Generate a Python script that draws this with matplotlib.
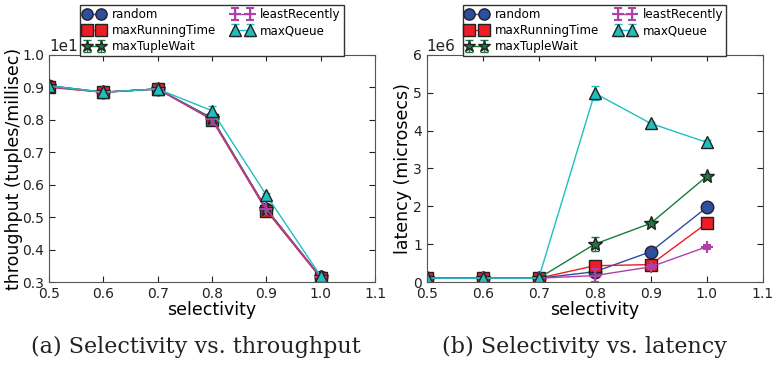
import matplotlib
matplotlib.use("Agg")
import matplotlib.pyplot as plt
from matplotlib.ticker import ScalarFormatter, MultipleLocator

# selectivity values (x axis)
selectivity = [0.5, 0.6, 0.7, 0.8, 0.9, 1.0]

# throughput in tuples/millisec
tp_random = [9.05, 8.85, 8.95, 8.05, 5.25, 3.15]
tp_maxRunningTime = [9.00, 8.85, 8.95, 8.00, 5.20, 3.12]
tp_maxTupleWait = [9.05, 8.85, 8.95, 8.05, 5.25, 3.15]
tp_leastRecently = [9.02, 8.85, 8.95, 8.02, 5.25, 3.15]
tp_maxQueue = [9.05, 8.85, 8.95, 8.28, 5.68, 3.18]
tp_err = [0.05, 0.05, 0.05, 0.15, 0.05, 0.03]

# latency in microsecs
lat_random = [0.1e6, 0.1e6, 0.1e6, 0.27e6, 0.80e6, 1.97e6]
lat_maxRunningTime = [0.1e6, 0.1e6, 0.1e6, 0.43e6, 0.46e6, 1.55e6]
lat_maxTupleWait = [0.1e6, 0.1e6, 0.1e6, 1.00e6, 1.55e6, 2.79e6]
lat_leastRecently = [0.1e6, 0.1e6, 0.1e6, 0.17e6, 0.40e6, 0.93e6]
lat_maxQueue = [0.1e6, 0.1e6, 0.1e6, 4.99e6, 4.19e6, 3.69e6]
lat_err = [0.01e6, 0.01e6, 0.01e6, 0.18e6, 0.05e6, 0.05e6]

labels = ['random', 'maxRunningTime', 'maxTupleWait', 'leastRecently', 'maxQueue']
colors = ['#2f4ea0', '#ee1c25', '#1a7a40', '#b040a8', '#1fbfbf']
markers = ['o', 's', '*', '+', '^']
sizes = [9, 9, 10, 9, 9]

fig = plt.figure(figsize=(7.75, 3.66), dpi=100)
ax1 = fig.add_axes([0.063, 0.2295, 0.421, 0.6205])
ax2 = fig.add_axes([0.5506, 0.2295, 0.4335, 0.6205])


def draw(ax, series, err):
    for i, (ys, lab) in enumerate(zip(series, labels)):
        if lab in ('leastRecently', 'maxTupleWait', 'maxQueue'):
            ax.errorbar(selectivity, ys, yerr=err, color=colors[i], marker=markers[i],
                        markersize=sizes[i], markerfacecolor=colors[i],
                        markeredgecolor='#222222' if markers[i] != '+' else colors[i],
                        markeredgewidth=1.0 if markers[i] != '+' else 1.5,
                        linewidth=1.0, capsize=3, elinewidth=1.0, label=lab)
        else:
            ax.plot(selectivity, ys, color=colors[i], marker=markers[i],
                    markersize=sizes[i], markerfacecolor=colors[i],
                    markeredgecolor='#222222', linewidth=1.0, label=lab)
    ax.set_xlim(0.5, 1.1)
    ax.xaxis.set_major_locator(MultipleLocator(0.1))
    ax.xaxis.set_major_formatter(matplotlib.ticker.FormatStrFormatter('%.1f'))
    ax.tick_params(direction='in', top=True, right=True, labelsize=10,
                   length=4, colors='#222222')
    ax.set_xlabel('selectivity', fontsize=12.5, labelpad=0)
    for s in ax.spines.values():
        s.set_color('#555555')
    handles, labs = ax.get_legend_handles_labels()
    ax.legend(handles, labs, loc='lower center', bbox_to_anchor=(0.5, 0.995), ncol=2,
              numpoints=2, fontsize=8.6, markerscale=0.9, handlelength=1.8,
              handletextpad=0.6, columnspacing=1.3, labelspacing=0.25, borderpad=0.25,
              borderaxespad=0, fancybox=False, edgecolor='#333333', framealpha=1)


draw(ax1, [tp_random, tp_maxRunningTime, tp_maxTupleWait, tp_leastRecently, tp_maxQueue], tp_err)
draw(ax2, [lat_random, lat_maxRunningTime, lat_maxTupleWait, lat_leastRecently, lat_maxQueue], lat_err)

ax1.set_ylim(3, 10)
ax1.yaxis.set_major_locator(MultipleLocator(1))
fmt = ScalarFormatter(useMathText=False)
fmt.set_powerlimits((0, 0))
ax1.yaxis.set_major_formatter(fmt)
ax1.set_ylabel('throughput (tuples/millisec)', fontsize=12.5, labelpad=-1)

ax2.set_ylim(0, 6e6)
ax2.yaxis.set_major_locator(MultipleLocator(1e6))
ax2.set_ylabel('latency (microsecs)', fontsize=12.5, labelpad=1)

for ax in (ax1, ax2):
    ax.yaxis.get_offset_text().set_fontsize(11)
    ax.yaxis.get_offset_text().set_color('#222222')

fig.text(0.253, 0.052, '(a) Selectivity vs. throughput', ha='center', va='center',
         fontsize=16, family='DejaVu Serif', color='#222222')
fig.text(0.754, 0.052, '(b) Selectivity vs. latency', ha='center', va='center',
         fontsize=16, family='DejaVu Serif', color='#222222')

fig.savefig('out.png', dpi=100)
